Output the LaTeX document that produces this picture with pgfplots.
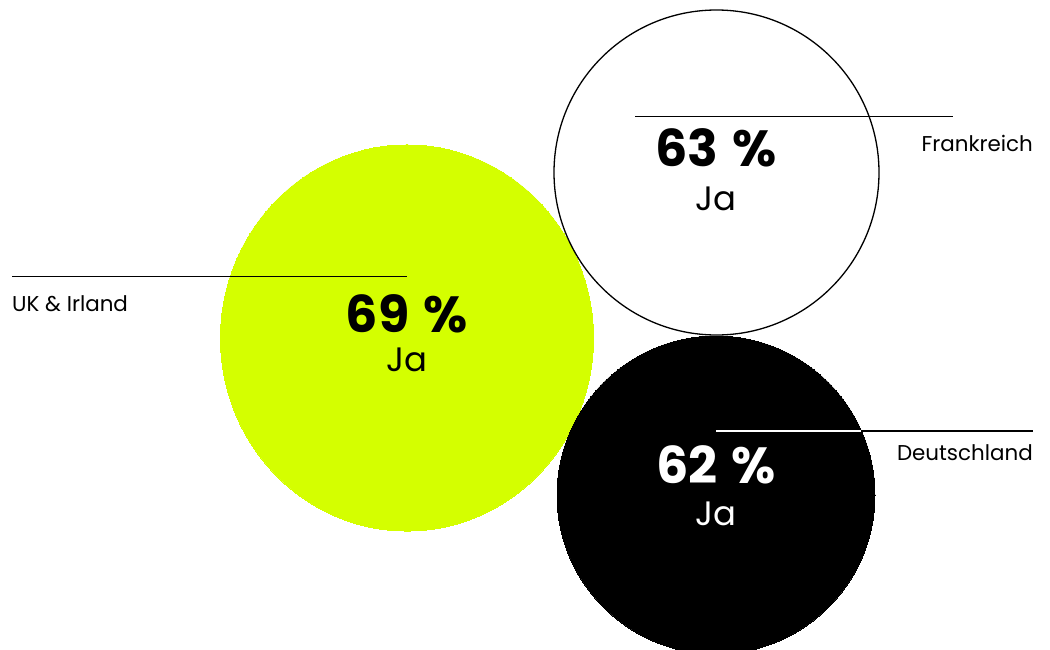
\documentclass[border=0pt]{standalone}
\usepackage{pgfplots}
\pgfplotsset{compat=1.18}
\usepackage{fontspec}
\setmainfont{Poppins}
\newfontfamily\labfont{Poppins}
\definecolor{lime}{RGB}{212,255,0}
\begin{document}
\begin{tikzpicture}
\begin{axis}[
  width=1050bp, height=649bp, scale only axis,
  xmin=0, xmax=1050, ymin=0, ymax=649, y dir=reverse,
  hide axis, clip=true, clip marker paths=true,
]
% bubbles
\addplot[lime, only marks, mark=*, mark size=186.5bp,
  mark options={fill=lime, draw=lime, line width=0pt, yscale=1.035}] coordinates {(407,338)};
\addplot[black, only marks, mark=*, mark size=162.5bp,
  mark options={fill=white, draw=black, line width=1.3bp}] coordinates {(716.5,172.5)};
\addplot[black, only marks, mark=*, mark size=159bp,
  mark options={fill=black, draw=black, line width=0pt}] coordinates {(716,495)};
% leader lines
\addplot[black, line width=1.3bp] coordinates {(12,276.7) (406.7,276.7)};
\addplot[black, line width=1.3bp] coordinates {(635,116.7) (953,116.7)};
\addplot[black, line width=1.3bp] coordinates {(716,431) (1033,431)};
\addplot[white, line width=1.3bp] coordinates {(716,431) (861.3,431)};
% values
\node[anchor=base, inner sep=0pt, font=\fontsize{51}{60}\selectfont\bfseries] at (axis cs:407,332) {69\hspace{0.28em}\%};
\node[anchor=base, inner sep=0pt, font=\fontsize{34}{40}\selectfont] at (axis cs:407,371) {Ja};
\node[anchor=base, inner sep=0pt, font=\fontsize{51}{60}\selectfont\bfseries] at (axis cs:716,166) {63\hspace{0.28em}\%};
\node[anchor=base, inner sep=0pt, font=\fontsize{34}{40}\selectfont] at (axis cs:716,210) {Ja};
\node[anchor=base, inner sep=0pt, text=white, font=\fontsize{51}{60}\selectfont\bfseries] at (axis cs:716,483) {62\hspace{0.28em}\%};
\node[anchor=base, inner sep=0pt, text=white, font=\fontsize{34}{40}\selectfont] at (axis cs:716,525) {Ja};
% labels
\node[anchor=base west, inner sep=0pt, font=\labfont\fontsize{21.5}{25}\selectfont] at (axis cs:12,311) {UK \& Irland};
\node[anchor=base east, inner sep=0pt, font=\labfont\fontsize{21.5}{25}\selectfont] at (axis cs:1033,151.7) {Frankreich};
\node[anchor=base east, inner sep=0pt, font=\labfont\fontsize{21.5}{25}\selectfont] at (axis cs:1033,460.7) {Deutschland};
\end{axis}
\pgfresetboundingbox
\useasboundingbox (current axis.south west) rectangle (current axis.north east);
\end{tikzpicture}
\end{document}
